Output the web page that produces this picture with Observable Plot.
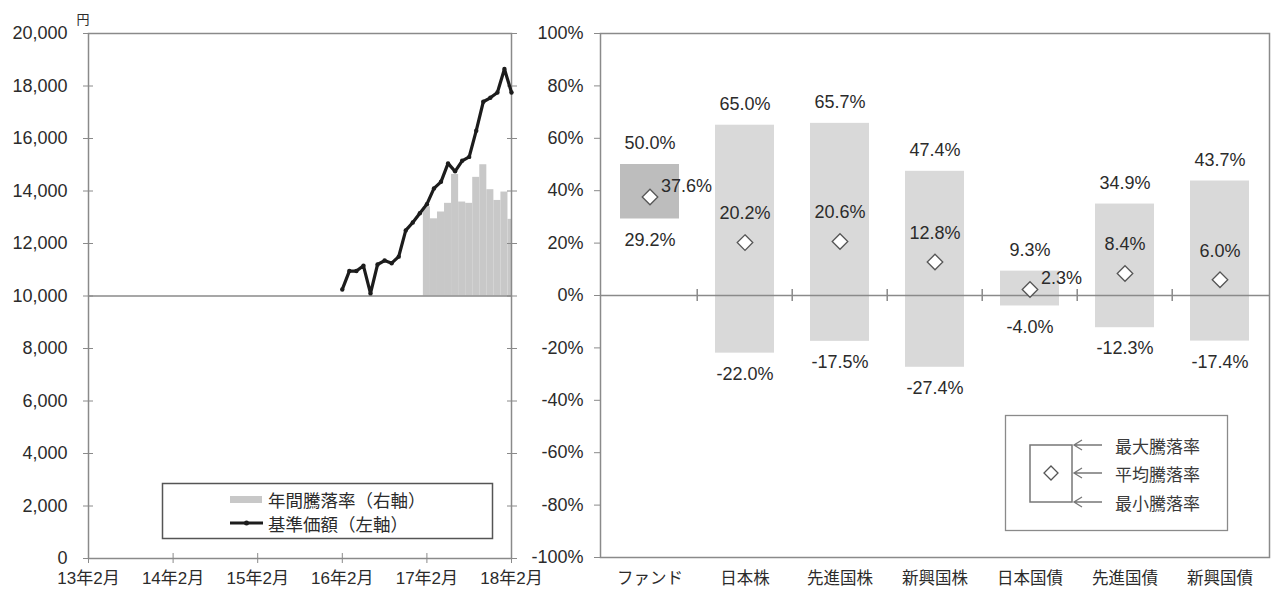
<!DOCTYPE html>
<html>
<head>
<meta charset="utf-8">
<script src="https://cdn.jsdelivr.net/npm/d3@7"></script>
<script src="https://cdn.jsdelivr.net/npm/@observablehq/plot@0.6"></script>
<style>
  html, body { margin: 0; padding: 0; background: #fff; }
  #root { position: relative; width: 1272px; height: 597px; overflow: hidden; background: #fff;
          font-family: "Liberation Sans", "Noto Sans CJK JP", sans-serif; color: #2b2b2b; }
  .layer { position: absolute; top: 0; }
  .layer svg { display: block; }
</style>
</head>
<body>
<div id="root"></div>
<script>
// ---------------- DATA ----------------
const navMonths = ["2016-02","2016-03","2016-04","2016-05","2016-06","2016-07","2016-08","2016-09","2016-10","2016-11","2016-12",
  "2017-01","2017-02","2017-03","2017-04","2017-05","2017-06","2017-07","2017-08","2017-09","2017-10","2017-11","2017-12",
  "2018-01","2018-02"];
const navValues = [10250, 10950, 10950, 11150, 10100, 11200, 11350, 11250, 11500, 12500, 12800,
  13150, 13500, 14100, 14350, 15050, 14750, 15150, 15300, 16300, 17400, 17550, 17750,
  18650, 17750];
const returnMonths = ["2017-02","2017-03","2017-04","2017-05","2017-06","2017-07","2017-08","2017-09","2017-10","2017-11","2017-12","2018-01","2018-02"];
const returnValues = [34.0, 29.4, 32.0, 35.3, 46.3, 35.8, 35.3, 45.2, 50.0, 40.5, 36.4, 39.6, 29.2];
const xTickLabels = ["13年2月","14年2月","15年2月","16年2月","17年2月","18年2月"];
const leftTicks = [0,2000,4000,6000,8000,10000,12000,14000,16000,18000,20000];
const pctTicks = [-100,-80,-60,-40,-20,0,20,40,60,80,100];

const categories = ["ファンド","日本株","先進国株","新興国株","日本国債","先進国債","新興国債"];
const maxReturn = [50.0, 65.0, 65.7, 47.4, 9.3, 34.9, 43.7];
const avgReturn = [37.6, 20.2, 20.6, 12.8, 2.3, 8.4, 6.0];
const minReturn = [29.2, -22.0, -17.5, -27.4, -4.0, -12.3, -17.4];

const legendLeft = ["年間騰落率（右軸）", "基準価額（左軸）"];
const legendRight = ["最大騰落率", "平均騰落率", "最小騰落率"];
const unitLabel = "円";

// ---------------- HELPERS ----------------
const monthIndex = s => { const [y, m] = s.split("-").map(Number); return (y - 2013) * 12 + (m - 2); };
const nav = navMonths.map((m, i) => ({i: monthIndex(m), v: navValues[i]}));
const annual = returnMonths.map((m, i) => ({i: monthIndex(m), v: returnValues[i]}));
const stats = categories.map((c, k) => ({cat: c, max: maxReturn[k], avg: avgReturn[k], min: minReturn[k]}));
const pct = v => v.toFixed(1) + "%";

const FONT = "'Liberation Sans', 'Noto Sans CJK JP', sans-serif";
const AX = "#8a8a8a";
const TXT = "#2b2b2b";
const root = document.getElementById("root");
function addLayer(svg, left) {
  const d = document.createElement("div");
  d.className = "layer";
  d.style.left = left + "px";
  d.appendChild(svg);
  root.appendChild(d);
}

const L = {width: 520, height: 597, marginLeft: 88, marginRight: 9, marginTop: 33, marginBottom: 39};
const xTicks = xTickLabels.map((_, k) => k * 12);

// ---------- Left chart: annual return bars (right axis) ----------
const leftBars = Plot.plot({
  ...L,
  style: {background: "transparent", fontFamily: FONT, overflow: "visible"},
  x: {domain: [0, 60], axis: null},
  y: {domain: [-100, 100], axis: null},
  marks: [
    Plot.rect(annual, {x1: d => d.i - 0.5, x2: d => d.i + 0.5, y1: 0, y2: "v", fill: "#c8c8c8", clip: true}),
    Plot.axisY({anchor: "right", ticks: pctTicks, fill: "none", stroke: AX, tickSize: 10, dx: -5, label: null})
  ]
});
addLayer(leftBars, 0);

// ---------- Left chart: NAV line (left axis) ----------
const leftLine = Plot.plot({
  ...L,
  style: {background: "transparent", fontFamily: FONT, overflow: "visible", color: TXT},
  x: {domain: [0, 60]},
  y: {domain: [0, 20000]},
  marks: [
    Plot.frame({stroke: AX, strokeWidth: 1.5}),
    Plot.ruleY([10000], {stroke: AX, strokeWidth: 1.5}),
    Plot.axisY({ticks: leftTicks, tickFormat: d3.format(","), stroke: "none", tickSize: 0, tickPadding: 21, fontSize: 18, fill: TXT, label: null}),
    Plot.axisY({ticks: leftTicks, fill: "none", stroke: AX, tickSize: 10, dx: 5, label: null}),
    Plot.axisX({ticks: xTicks, tickFormat: d => xTickLabels[d / 12], stroke: "none", tickSize: 0, tickPadding: 13, fontSize: 17, fill: TXT, label: null}),
    Plot.axisX({ticks: xTicks, fill: "none", stroke: AX, tickSize: 10, dy: -5, label: null}),
    Plot.line(nav, {x: "i", y: "v", stroke: "#1c1c1c", strokeWidth: 3.2, strokeLinejoin: "round"}),
    Plot.dot(nav, {x: "i", y: "v", r: 2.2, fill: "#1c1c1c"})
  ]
});
addLayer(leftLine, 0);

// ---------- Right chart ----------
const R = {width: 757, height: 597, marginLeft: 85, marginRight: 3, marginTop: 33, marginBottom: 40};
const step = (R.width - R.marginLeft - R.marginRight) / categories.length;
const sideLabel = new Set(["ファンド", "日本国債"]);
const right = Plot.plot({
  ...R,
  style: {background: "transparent", fontFamily: FONT, overflow: "visible", color: TXT},
  x: {domain: categories, paddingInner: 0.38, paddingOuter: 0.19},
  y: {domain: [-100, 100]},
  marks: [
    Plot.barY(stats, {x: "cat", y1: "min", y2: "max", fill: d => d.cat === "ファンド" ? "#bdbdbd" : "#d9d9d9"}),
    Plot.frame({stroke: AX, strokeWidth: 1.5}),
    Plot.ruleY([0], {stroke: AX, strokeWidth: 1.5}),
    Plot.ruleX(categories.slice(1), {x: d => d, y1: -2.3, y2: 2.3, dx: -step / 2, stroke: AX, strokeWidth: 1.5}),
    Plot.axisY({ticks: pctTicks, tickFormat: d => d + "%", stroke: AX, tickSize: 6, tickPadding: 11, fontSize: 18, fill: TXT, label: null}),
    Plot.axisX({tickSize: 0, tickPadding: 15, fontSize: 16.5, fill: TXT, label: null}),
    Plot.dot(stats, {x: "cat", y: "avg", symbol: "diamond2", r: 7, fill: "white", stroke: "#555", strokeWidth: 1.3}),
    Plot.text(stats, {x: "cat", y: "max", text: d => pct(d.max), dy: -21, fontSize: 18, fill: TXT}),
    Plot.text(stats, {x: "cat", y: "min", text: d => pct(d.min), dy: 21, fontSize: 18, fill: TXT}),
    Plot.text(stats.filter(d => !sideLabel.has(d.cat)), {x: "cat", y: "avg", text: d => pct(d.avg), dy: -29, fontSize: 18, fill: TXT}),
    Plot.text(stats.filter(d => sideLabel.has(d.cat)), {x: "cat", y: "avg", text: d => pct(d.avg), textAnchor: "start", dx: 11, dy: -11, fontSize: 18, fill: TXT})
  ]
});
addLayer(right, 515);

// ---------- Legends & unit label (overlay SVG) ----------
const ns = "http://www.w3.org/2000/svg";
const ov = d3.select(root).append("svg")
  .attr("xmlns", ns).attr("width", 1272).attr("height", 597)
  .style("position", "absolute").style("left", "0px").style("top", "0px")
  .style("font-family", "'Noto Sans CJK JP', sans-serif");

ov.append("text").attr("x", 83).attr("y", 18).attr("text-anchor", "middle").attr("dominant-baseline", "central")
  .attr("font-size", 13).attr("fill", TXT).text(unitLabel);

// left legend
const lg = ov.append("g");
lg.append("rect").attr("x", 162.5).attr("y", 483.5).attr("width", 330).attr("height", 55)
  .attr("fill", "white").attr("stroke", "#555").attr("stroke-width", 1.5);
lg.append("rect").attr("x", 230).attr("y", 496).attr("width", 32).attr("height", 7).attr("fill", "#c8c8c8");
lg.append("line").attr("x1", 230).attr("x2", 263).attr("y1", 523).attr("y2", 523).attr("stroke", "#1c1c1c").attr("stroke-width", 3);
lg.append("circle").attr("cx", 246.5).attr("cy", 523).attr("r", 2.5).attr("fill", "#1c1c1c");
legendLeft.forEach((t, k) => lg.append("text").attr("x", 268).attr("y", 499 + k * 24).attr("dominant-baseline", "central")
  .attr("font-size", 17.5).attr("fill", TXT).text(t));

// right legend
const rg = ov.append("g");
rg.append("rect").attr("x", 1005.5).attr("y", 415.5).attr("width", 222).attr("height", 115)
  .attr("fill", "white").attr("stroke", AX).attr("stroke-width", 1.3);
rg.append("rect").attr("x", 1030).attr("y", 445).attr("width", 42).attr("height", 57)
  .attr("fill", "none").attr("stroke", "#777").attr("stroke-width", 1.5);
rg.append("path").attr("d", "M1051,466 L1058,473 L1051,480 L1044,473 Z").attr("fill", "white").attr("stroke", "#555").attr("stroke-width", 1.3);
[445, 473, 502].forEach((y, k) => {
  rg.append("path").attr("d", `M1102,${y} L1074,${y} M1082,${y - 5} L1074,${y} L1082,${y + 5}`)
    .attr("fill", "none").attr("stroke", "#777").attr("stroke-width", 1.3);
  rg.append("text").attr("x", 1115).attr("y", y).attr("dominant-baseline", "central")
    .attr("font-size", 17).attr("fill", "#3a3a3a").text(legendRight[k]);
});
</script>
</body>
</html>
